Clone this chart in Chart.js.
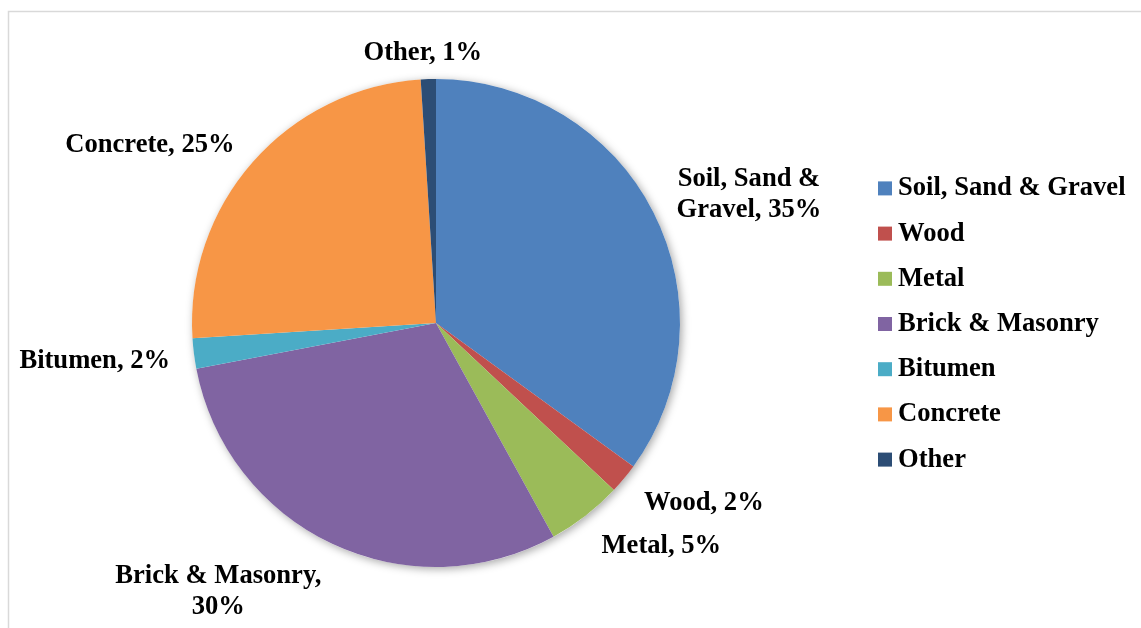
<!DOCTYPE html>
<html>
<head>
<meta charset="utf-8">
<title>Waste composition</title>
<script src="https://cdn.jsdelivr.net/npm/chart.js@4"></script>
<style>
    html, body { margin: 0; padding: 0; background: #ffffff; }
    #wrap { position: relative; width: 1141px; height: 628px; }
</style>
</head>
<body>
<div id="wrap"><canvas id="chart-waste"></canvas></div>
<script>
// categories and shares (%)
const categories = ['Soil, Sand & Gravel', 'Wood', 'Metal', 'Brick & Masonry', 'Bitumen', 'Concrete', 'Other'];
const shares = [35, 2, 5, 30, 2, 25, 1];
const sliceColors = ['#4F81BD', '#C0504D', '#9BBB59', '#8064A2', '#4BACC6', '#F79646', '#2C4D75'];

const FONT = 'bold 26.6px "Liberation Serif", "Times New Roman", serif';

// soft drop shadow under the whole pie
const pieShadow = {
    id: 'pieShadow',
    beforeDatasetsDraw(chart) {
        const arc = chart.getDatasetMeta(0).data[0];
        if (!arc) return;
        const ctx = chart.ctx;
        ctx.save();
        ctx.shadowColor = 'rgba(0, 0, 0, 0.35)';
        ctx.shadowBlur = 8;
        ctx.shadowOffsetX = 2;
        ctx.shadowOffsetY = 2;
        ctx.fillStyle = '#ffffff';
        ctx.beginPath();
        ctx.arc(arc.x, arc.y, arc.outerRadius, 0, Math.PI * 2);
        ctx.fill();
        ctx.restore();
    }
};

function wrapText(ctx, text, maxWidth) {
    const words = text.split(' ');
    const lines = [];
    let line = '';
    words.forEach(w => {
        const test = line ? line + ' ' + w : w;
        if (line && ctx.measureText(test).width > maxWidth) {
            lines.push(line);
            line = w;
        } else {
            line = test;
        }
    });
    lines.push(line);
    return lines;
}

// outside labels "Name, xx%"
const outsideLabels = {
    id: 'outsideLabels',
    afterDatasetsDraw(chart) {
        const ctx = chart.ctx;
        const meta = chart.getDatasetMeta(0);
        const lineH = 31;
        ctx.save();
        ctx.font = FONT;
        ctx.fillStyle = '#000000';
        ctx.textAlign = 'center';
        ctx.textBaseline = 'middle';
        meta.data.forEach((arc, i) => {
            const mid = (arc.startAngle + arc.endAngle) / 2;
            const dx = Math.cos(mid), dy = Math.sin(mid);
            // labels sit a little further out sideways than vertically,
            // and those below the pie drop a bit more
            const ax = arc.x + (arc.outerRadius + 26 - 2 * Math.max(-dx, 0)) * dx;
            const ay = arc.y + (arc.outerRadius + 16) * dy + 3 + 5 * Math.max(dy, 0);
            const lines = wrapText(ctx, categories[i] + ', ' + shares[i] + '%', 225);
            const w = Math.max(...lines.map(l => ctx.measureText(l).width));
            const h = lines.length * lineH - 4;
            const hx = Math.max(-1, Math.min(1, dx * 2.5));
            const vy = Math.max(-1, Math.min(1, dy));
            const cx = ax + hx * w / 2;
            const cy = ay + vy * h / 2;
            lines.forEach((l, k) => {
                ctx.fillText(l, cx, cy + (k - (lines.length - 1) / 2) * lineH);
            });
        });
        ctx.restore();
    }
};

// legend on the right plus the outer frame
const sideLegend = {
    id: 'sideLegend',
    afterDraw(chart) {
        const ctx = chart.ctx;
        const area = chart.chartArea;
        const midY = (area.top + area.bottom) / 2;
        const rowH = 45.2;
        const x0 = 878;
        ctx.save();
        ctx.font = FONT;
        ctx.textAlign = 'left';
        ctx.textBaseline = 'alphabetic';
        categories.forEach((name, i) => {
            const y = midY + (i - (categories.length - 1) / 2) * rowH;
            ctx.fillStyle = sliceColors[i];
            ctx.fillRect(x0, y - 6, 14, 14);
            ctx.fillStyle = '#000000';
            ctx.fillText(name, x0 + 20, y + 8);
        });
        ctx.strokeStyle = '#d9d9d9';
        ctx.lineWidth = 1.5;
        ctx.strokeRect(8.5, 11.5, 1200, 700);
        ctx.restore();
    }
};

new Chart(document.getElementById('chart-waste'), {
    type: 'pie',
    data: {
        labels: categories,
        datasets: [{
            data: shares,
            backgroundColor: sliceColors,
            borderWidth: 0,
            hoverOffset: 0
        }]
    },
    options: {
        responsive: true,
        maintainAspectRatio: false,
        animation: false,
        layout: {
            padding: { top: 79, bottom: 61, left: 100, right: 369 }
        },
        plugins: {
            legend: { display: false },
            tooltip: { enabled: false }
        }
    },
    plugins: [pieShadow, outsideLabels, sideLegend]
});
</script>
</body>
</html>
